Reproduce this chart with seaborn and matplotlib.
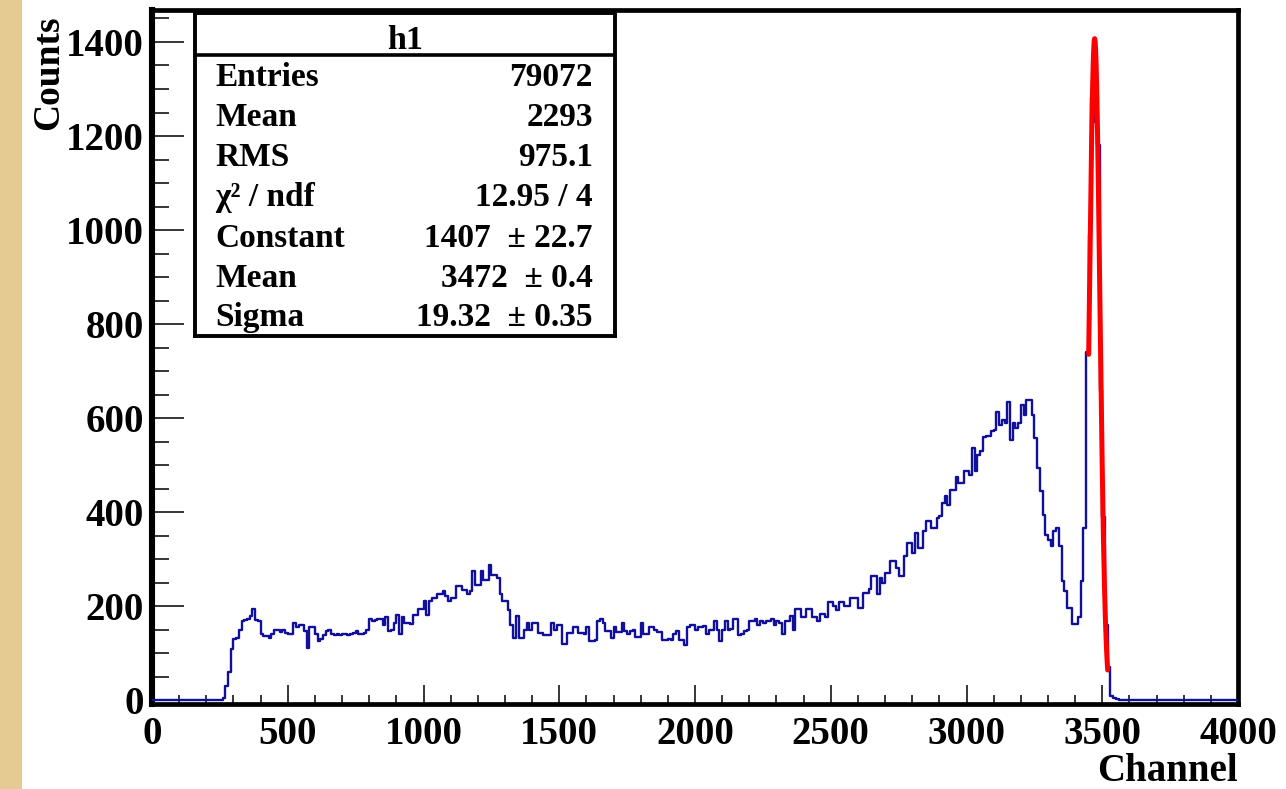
import numpy as np
import pandas as pd
import matplotlib
matplotlib.use("Agg")
import matplotlib.pyplot as plt
from matplotlib.ticker import MultipleLocator, FixedLocator
from matplotlib.patches import Rectangle
import seaborn as sns

# ---------------- data ----------------
bin_width = 10          # channels per bin, histogram spans 0..4000
counts_0000_0990 = [
    0, 0, 0, 0, 0, 0, 0, 0, 0, 0,
    0, 0, 0, 0, 0, 0, 0, 0, 0, 0,
    0, 0, 0, 0, 0, 0, 5, 30, 60, 108,
    130, 132, 150, 168, 170, 172, 180, 193, 170, 168,
    140, 136, 137, 133, 140, 150, 150, 146, 150, 142,
    140, 140, 165, 155, 161, 160, 148, 112, 155, 155,
    140, 127, 130, 138, 148, 150, 140, 138, 140, 138,
    140, 141, 138, 140, 142, 148, 140, 140, 142, 150,
    172, 169, 170, 172, 172, 161, 176, 148, 150, 165,
    182, 140, 176, 165, 165, 163, 182, 182, 193, 193,
]
counts_1000_1990 = [
    212, 182, 212, 218, 218, 225, 225, 233, 222, 212,
    218, 218, 244, 244, 235, 235, 225, 233, 275, 246,
    246, 275, 256, 256, 288, 267, 267, 260, 225, 212,
    212, 191, 161, 133, 180, 133, 133, 150, 165, 150,
    165, 165, 144, 144, 138, 138, 138, 165, 150, 161,
    161, 119, 119, 142, 142, 155, 155, 144, 144, 140,
    155, 127, 127, 129, 169, 172, 165, 148, 148, 133,
    155, 145, 145, 165, 148, 140, 148, 150, 135, 135,
    165, 140, 140, 155, 155, 150, 145, 145, 129, 129,
    131, 129, 140, 148, 129, 129, 117, 155, 160, 160,
]
counts_2000_2990 = [
    150, 155, 155, 157, 140, 150, 150, 169, 150, 127,
    150, 169, 150, 152, 172, 172, 138, 140, 148, 150,
    169, 169, 172, 160, 169, 165, 169, 169, 172, 160,
    169, 165, 140, 169, 169, 180, 150, 193, 193, 176,
    176, 193, 193, 176, 176, 169, 184, 184, 176, 208,
    208, 201, 191, 208, 208, 201, 201, 218, 218, 218,
    197, 197, 229, 229, 237, 264, 264, 225, 260, 250,
    271, 271, 297, 297, 282, 264, 264, 307, 335, 335,
    313, 356, 324, 324, 360, 381, 381, 366, 366, 388,
    392, 419, 434, 415, 447, 447, 474, 462, 462, 487,
]
counts_3000_3990 = [
    487, 479, 536, 487, 521, 530, 559, 561, 561, 572,
    574, 612, 585, 595, 589, 635, 553, 589, 578, 589,
    627, 606, 638, 638, 606, 557, 494, 445, 394, 352,
    341, 328, 360, 366, 328, 254, 233, 197, 197, 163,
    163, 176, 254, 366, 740, 990, 1280, 1230, 1180, 660,
    390, 160, 70, 8, 4, 2, 0, 0, 0, 0,
    0, 0, 0, 0, 0, 0, 0, 0, 0, 0,
    0, 0, 0, 0, 0, 0, 0, 0, 0, 0,
    0, 0, 0, 0, 0, 0, 0, 0, 0, 0,
    0, 0, 0, 0, 0, 0, 0, 0, 0, 0,
]

# Gaussian fit parameters (from the stats box) and fit range
fit_constant = 1407.0
fit_mean = 3472.0
fit_sigma = 19.32
fit_range = (3450, 3520)

x_ticks = [0, 500, 1000, 1500, 2000, 2500, 3000, 3500, 4000]
y_ticks = [0, 200, 400, 600, 800, 1000, 1200, 1400]

stats_title = "h1"
stats_labels = ["Entries", "Mean", "RMS", "\u03c7\u00b2 / ndf", "Constant", "Mean", "Sigma"]
stats_values = ["79072", "2293", "975.1", "12.95 / 4",
                "1407  \u00b1 22.7", "3472  \u00b1 0.4", "19.32  \u00b1 0.35"]

x_label = "Channel"
y_label = "Counts"

# ---------------- build table ----------------
counts = np.array(counts_0000_0990 + counts_1000_1990 + counts_2000_2990 + counts_3000_3990, dtype=float)
n_bins = len(counts)
centers = np.arange(n_bins) * bin_width + bin_width / 2
df = pd.DataFrame({"channel": centers, "counts": counts})

fit_x = np.linspace(fit_range[0], fit_range[1], 300)
fit_df = pd.DataFrame({"channel": fit_x,
                       "value": fit_constant * np.exp(-0.5 * ((fit_x - fit_mean) / fit_sigma) ** 2)})

# ---------------- style ----------------
sns.set_style("ticks")
plt.rcParams["font.family"] = ["Liberation Serif", "DejaVu Serif"]
plt.rcParams["font.weight"] = "bold"
plt.rcParams["text.color"] = "black"
plt.rcParams["axes.labelcolor"] = "black"
plt.rcParams["xtick.color"] = "black"
plt.rcParams["ytick.color"] = "black"
plt.rcParams["xtick.labelcolor"] = "black"
plt.rcParams["ytick.labelcolor"] = "black"

W, H = 1286, 789
fig = plt.figure(figsize=(W / 100, H / 100), dpi=100)
fig.patch.set_facecolor("white")

# beige strip on the left edge
fig.patches.append(Rectangle((0, 0), 22 / W, 1, transform=fig.transFigure,
                             facecolor="#e5ca91", edgecolor="none", zorder=-10))

ax_l, ax_r, ax_t, ax_b = 152, 1238, 10, 704
ax = fig.add_axes([ax_l / W, 1 - ax_b / H, (ax_r - ax_l) / W, (ax_b - ax_t) / H])
ax.set_facecolor("white")

sns.histplot(data=df, x="channel", weights="counts", binwidth=bin_width,
             binrange=(0, n_bins * bin_width), element="step",
             fill=False, color="#10109c", linewidth=1.7, ax=ax, zorder=3)
sns.lineplot(data=fit_df, x="channel", y="value", color="#ff0000", linewidth=3.6,
             ax=ax, zorder=4)

ax.set_xlim(0, 4000)
ax.set_ylim(-8, 1468)

ax.xaxis.set_major_locator(FixedLocator(x_ticks))
ax.yaxis.set_major_locator(FixedLocator(y_ticks))
ax.xaxis.set_minor_locator(MultipleLocator(100))
ax.yaxis.set_minor_locator(MultipleLocator(50))
ax.set_xticklabels([str(v) for v in x_ticks])
ax.set_yticklabels([str(v) for v in y_ticks])

ax.tick_params(axis="x", which="major", direction="in", length=14, width=1.1,
               labelsize=28, pad=9, color="black", labelcolor="black", top=False)
ax.tick_params(axis="x", which="minor", direction="in", length=6.5, width=1.1,
               color="black", top=False)
ax.tick_params(axis="y", which="major", direction="in", length=23, width=1.1,
               labelsize=28, pad=6, color="black", labelcolor="black", right=False)
ax.tick_params(axis="y", which="minor", direction="in", length=12, width=1.1,
               color="black", right=False)
for lab in ax.get_xticklabels() + ax.get_yticklabels():
    lab.set_fontweight("bold")

for side, sp in ax.spines.items():
    sp.set_visible(True)
    sp.set_color("black")
    sp.set_linewidth(3.4)
ax.spines["left"].set_linewidth(4.4)

ax.set_xlabel(x_label, fontsize=28, fontweight="bold", loc="right", color="black")
ax.xaxis.set_label_coords(1.0, -(781 - ax_b) / (ax_b - ax_t))
ax.xaxis.label.set_verticalalignment("baseline")
ax.set_ylabel(y_label, fontsize=27, fontweight="bold", loc="top", color="black")
ax.yaxis.set_label_coords(-(ax_l - 66) / (ax_r - ax_l), 1 - 5 / (ax_b - ax_t))

# ---------------- stats box ----------------
bl, br, bt, bb = 194.5, 615.5, 13, 336
bax = fig.add_axes([bl / W, 1 - bb / H, (br - bl) / W, (bb - bt) / H], zorder=5)
bax.set_facecolor("white")
bax.set_xticks([])
bax.set_yticks([])
bax.set_xlim(0, 1)
bax.set_ylim(0, 1)
for sp in bax.spines.values():
    sp.set_linewidth(2.8)
    sp.set_color("black")

def bx(px):
    return (px - bl) / (br - bl)

def by(py):
    return (bb - py) / (bb - bt)

bax.axhline(by(54.5), color="black", linewidth=2.6)
bax.text(bx(405), by(49), stats_title, ha="center", va="baseline",
         fontsize=24.5, fontweight="bold", color="black")
row_baselines = [86, 126, 166, 206, 247, 287, 326]
for lab, val, yb in zip(stats_labels, stats_values, row_baselines):
    bax.text(bx(215), by(yb), lab, ha="left", va="baseline", fontsize=24,
             fontweight="bold", color="black")
    bax.text(bx(593), by(yb), val, ha="right", va="baseline", fontsize=24,
             fontweight="bold", color="black")

fig.savefig("out.png", dpi=100)
